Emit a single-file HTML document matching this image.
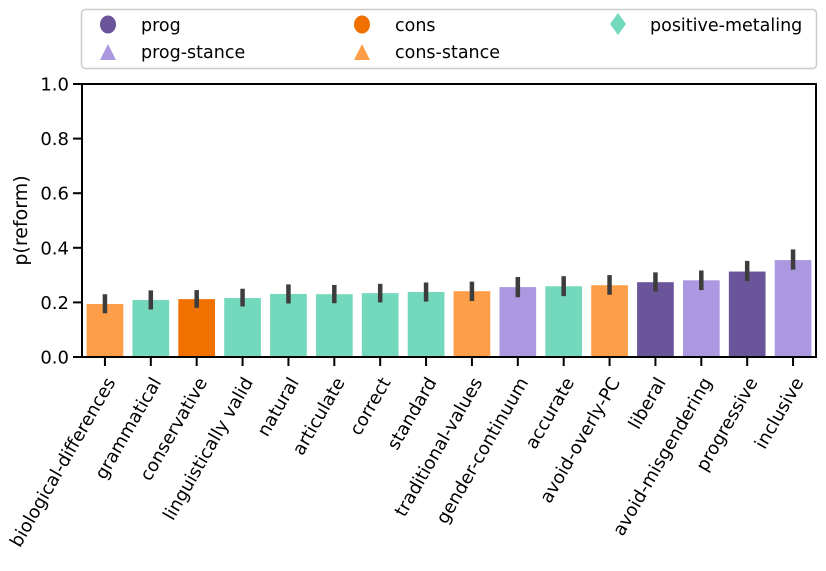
<!DOCTYPE html>
<html><head><meta charset="utf-8"><style>
body{margin:0;background:#fff;}
svg text{font-family:"DejaVu Sans","Liberation Sans",sans-serif;fill:#000;}
</style></head><body>
<svg id="chart" width="826" height="566" xmlns="http://www.w3.org/2000/svg">
<g id="legend">
<rect x="81.5" y="9.5" width="735" height="59" rx="4" fill="#fff" stroke="#ccc" stroke-width="1.5"/>
<g><ellipse cx="108" cy="24.5" rx="8" ry="9" fill="#6a549a"/><text x="141" y="31" font-size="17.5">prog</text></g>
<g><polygon points="100,60 116,60 108,44" fill="#ab98e0"/><text x="141" y="58" font-size="17.5">prog-stance</text></g>
<g><ellipse cx="362" cy="24.5" rx="8" ry="9" fill="#f07000"/><text x="395" y="31" font-size="17.5">cons</text></g>
<g><polygon points="354,60 370,60 362,44" fill="#ff9e48"/><text x="395" y="58" font-size="17.5">cons-stance</text></g>
<g><polygon points="618,13 626,24 618,35 610,24" fill="#73d8bc"/><text x="650" y="31" font-size="17.5">positive-metaling</text></g>
</g>
<g id="bars"></g>
<g id="axes"></g>
</svg>
<script>
const categories=["biological-differences","grammatical","conservative","linguistically valid","natural","articulate","correct","standard","traditional-values","gender-continuum","accurate","avoid-overly-PC","liberal","avoid-misgendering","progressive","inclusive"];
const values=[0.194,0.209,0.212,0.216,0.231,0.230,0.234,0.238,0.241,0.256,0.259,0.263,0.274,0.281,0.313,0.355];
const errLow=[0.160,0.174,0.180,0.185,0.196,0.197,0.200,0.203,0.205,0.219,0.223,0.228,0.240,0.245,0.278,0.320];
const errHigh=[0.230,0.244,0.245,0.250,0.266,0.264,0.268,0.273,0.276,0.293,0.296,0.300,0.310,0.317,0.352,0.394];
const groups=["cons-stance","pos","cons","pos","pos","pos","pos","pos","cons-stance","prog-stance","pos","cons-stance","prog","prog-stance","prog","prog-stance"];
const yTicks=[0,0.2,0.4,0.6,0.8,1.0];
const colors={"prog":"#6a549a","prog-stance":"#ab98e0","cons":"#f07000","cons-stance":"#ff9e48","pos":"#73d8bc"};
const L=82,R=816,T=84,B=357;
const ns="http://www.w3.org/2000/svg";
const slot=(R-L)/categories.length;
const xS=i=>L+slot*(i+0.5);
const yS=v=>B-(v)*(B-T);
function mk(t,a,p){const e=document.createElementNS(ns,t);for(const k in a)e.setAttribute(k,a[k]);p.appendChild(e);return e;}
const bars=document.getElementById('bars'),axes=document.getElementById('axes');
categories.forEach((c,i)=>{
 const w=slot*0.8;
 const r=mk('rect',{x:xS(i)-w/2,y:yS(values[i]),width:w,height:B-yS(values[i]),fill:colors[groups[i]]},bars);
 
 
 const l=mk('line',{x1:xS(i),x2:xS(i),y1:yS(errLow[i]),y2:yS(errHigh[i]),stroke:'#3d3d3d','stroke-width':4.5},bars);
 
 
 mk('line',{x1:xS(i),x2:xS(i),y1:B,y2:B+9,stroke:'#000','stroke-width':2},axes);
 const t=mk('text',{x:0,y:0,'font-size':18,'text-anchor':'end',transform:`translate(${xS(i)+11},${B+25}) rotate(-60)`},axes);
 t.textContent=c;
 
 
});
yTicks.forEach(v=>{
 mk('line',{x1:L-9,x2:L,y1:yS(v),y2:yS(v),stroke:'#000','stroke-width':2},axes);
 const t=mk('text',{x:L-13,y:yS(v)+6.5,'font-size':18,'text-anchor':'end'},axes);
 t.textContent=v.toFixed(1);
 
 
});
const fr=mk('rect',{x:L,y:T,width:R-L,height:B-T,fill:'none',stroke:'#000','stroke-width':2},axes);


const yl=mk('text',{x:0,y:0,'font-size':19,'text-anchor':'middle',transform:`translate(27,${(T+B)/2}) rotate(-90)`},axes);
yl.textContent='p(reform)';


</script>
</body></html>
